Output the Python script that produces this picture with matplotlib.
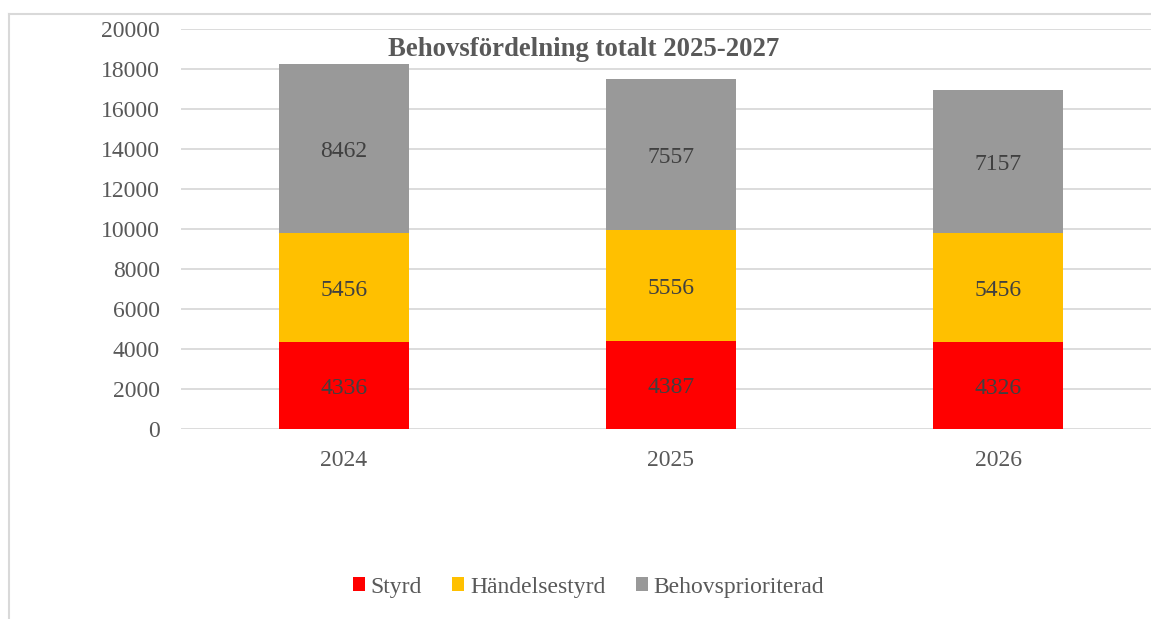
import matplotlib
matplotlib.use("Agg")
import matplotlib.pyplot as plt
from matplotlib.lines import Line2D
import numpy as np

years = ["2024", "2025", "2026"]
styrd = [4336, 4387, 4326]
handelsestyrd = [5456, 5556, 5456]
behovsprioriterad = [8462, 7557, 7157]
series_names = ["Styrd", "Händelsestyrd", "Behovsprioriterad"]
colors = ["#FF0000", "#FFC000", "#999999"]
yticks = [0, 2000, 4000, 6000, 8000, 10000, 12000, 14000, 16000, 18000, 20000]

plt.rcParams['font.family'] = ['Liberation Serif', 'DejaVu Serif']
FS = 17

fig = plt.figure(figsize=(11.51, 6.19), dpi=100)
ax = fig.add_axes([180.5/1151, 1-429/619, 981/1151, 400/619])

x = np.arange(len(years))
bottom = np.zeros(len(years))
for name, vals, c in zip(series_names, [styrd, handelsestyrd, behovsprioriterad], colors):
    ax.bar(x, vals, width=0.4, bottom=bottom, color=c, label=name, zorder=3)
    for xi, b, v in zip(x, bottom, vals):
        ax.text(xi, b + v/2, str(v), ha='center', va='center_baseline', fontsize=FS,
                color='#404040', zorder=4)
    bottom += np.array(vals)

ax.set_xlim(-0.5, 2.5)
ax.set_ylim(0, 20000)
ax.set_yticks(yticks)
ax.set_xticks(x)
ax.set_xticklabels(years)
ax.grid(axis='y', color='#d9d9d9', linewidth=1.3, zorder=0)
ax.set_axisbelow(True)
for s in ax.spines.values():
    s.set_visible(False)
ax.tick_params(axis='both', length=0, labelsize=FS, labelcolor='#595959')
ax.tick_params(axis='y', pad=15)
ax.tick_params(axis='x', pad=15)

fig.text(584/1151, 1-50/619, "Behovsfördelning totalt 2025-2027", ha='center', va='center',
         fontsize=19.3, fontweight='bold', color='#595959')

fig.legend(loc='center', bbox_to_anchor=(588.5/1151, 1-587/619), ncol=3, frameon=False,
           fontsize=FS, handlelength=0.51, handleheight=0.51, handletextpad=0.25,
           columnspacing=1.27, labelcolor='#595959')

fig.add_artist(Line2D([9/1151, 1], [1-14/619, 1-14/619], color='#d9d9d9', linewidth=1.5,
                      transform=fig.transFigure))
fig.add_artist(Line2D([9/1151, 9/1151], [0, 1-14/619], color='#d9d9d9', linewidth=1.5,
                      transform=fig.transFigure))

fig.savefig("out.png", dpi=100)
